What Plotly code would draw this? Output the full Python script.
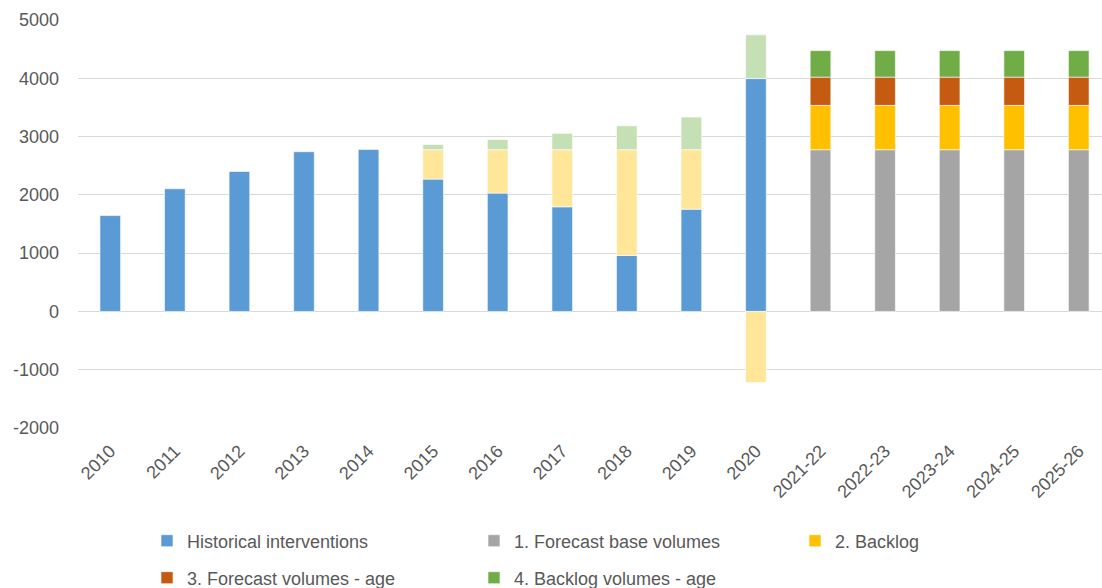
import plotly.graph_objects as go

categories = ["2010", "2011", "2012", "2013", "2014", "2015", "2016", "2017", "2018", "2019",
              "2020", "2021-22", "2022-23", "2023-24", "2024-25", "2025-26"]

historical = [1645, 2105, 2400, 2740, 2780, 2270, 2030, 1795, 960, 1755, 3995,
              None, None, None, None, None]
hist_backlog = [None, None, None, None, None, 505, 745, 980, 1815, 1020, -1220,
                None, None, None, None, None]
hist_backlog_age = [None, None, None, None, None, 90, 175, 280, 410, 560, 750,
                    None, None, None, None, None]

forecast_base = [None] * 11 + [2775, 2775, 2775, 2775, 2775]
backlog = [None] * 11 + [760, 760, 760, 760, 760]
forecast_age = [None] * 11 + [485, 485, 485, 485, 485]
backlog_age = [None] * 11 + [455, 455, 455, 455, 455]

y_tickvals = [-2000, -1000, 0, 1000, 2000, 3000, 4000, 5000]
y_ticktext = ["-2000", "-1000", "0", "1000", "2000", "3000", "4000", "5000"]

FONT = "Liberation Sans"
TXT = "#595959"
line = dict(width=1, color="rgba(255,255,255,0.6)")

fig = go.Figure()
fig.add_bar(x=categories, y=historical, name="Historical interventions",
            marker=dict(color="#5B9BD5", line=line), legend="legend")
fig.add_bar(x=categories, y=hist_backlog, name="Backlog (historical)", showlegend=False,
            marker=dict(color="#FFE699", line=line))
fig.add_bar(x=categories, y=hist_backlog_age, name="Backlog age (historical)", showlegend=False,
            marker=dict(color="#C5E0B4", line=line))
fig.add_bar(x=categories, y=forecast_base, name="1. Forecast base volumes",
            marker=dict(color="#A5A5A5", line=line), legend="legend")
fig.add_bar(x=categories, y=backlog, name="2. Backlog",
            marker=dict(color="#FFC000", line=line), legend="legend3")
fig.add_bar(x=categories, y=forecast_age, name="3. Forecast volumes - age",
            marker=dict(color="#C55A11", line=line), legend="legend2")
fig.add_bar(x=categories, y=backlog_age, name="4. Backlog volumes - age",
            marker=dict(color="#70AD47", line=line), legend="legend2")

legend_common = dict(orientation="h", xanchor="left", yanchor="middle",
                     xref="container", yref="container",
                     entrywidth=282, entrywidthmode="pixels",
                     font=dict(family=FONT, size=18, color=TXT),
                     bgcolor="rgba(0,0,0,0)", itemclick=False, itemdoubleclick=False)

fig.update_layout(
    width=1102, height=588,
    margin=dict(l=78, r=0, t=20, b=160),
    paper_bgcolor="white", plot_bgcolor="white",
    barmode="relative", bargap=0.68,
    font=dict(family=FONT, size=18, color=TXT),
    legend=dict(x=147 / 1102, y=1 - 541 / 588, **legend_common),
    legend2=dict(x=147 / 1102, y=1 - 578 / 588, **legend_common),
    legend3=dict(x=795 / 1102, y=1 - 541 / 588, **legend_common),
    xaxis=dict(range=[-0.5, 15.36], tickangle=-45, showgrid=False, showline=False,
               ticks="", ticklabelstandoff=8,
               tickfont=dict(family=FONT, size=18, color=TXT)),
    yaxis=dict(range=[-2000, 5000], tickvals=y_tickvals, ticktext=y_ticktext,
               showgrid=True, gridcolor="#D9D9D9",
               gridwidth=1, zeroline=True, zerolinecolor="#D9D9D9", zerolinewidth=1,
               showline=False, ticks="", ticklabelstandoff=18,
               tickfont=dict(family=FONT, size=18, color=TXT)),
)

fig.write_html("out.html")
